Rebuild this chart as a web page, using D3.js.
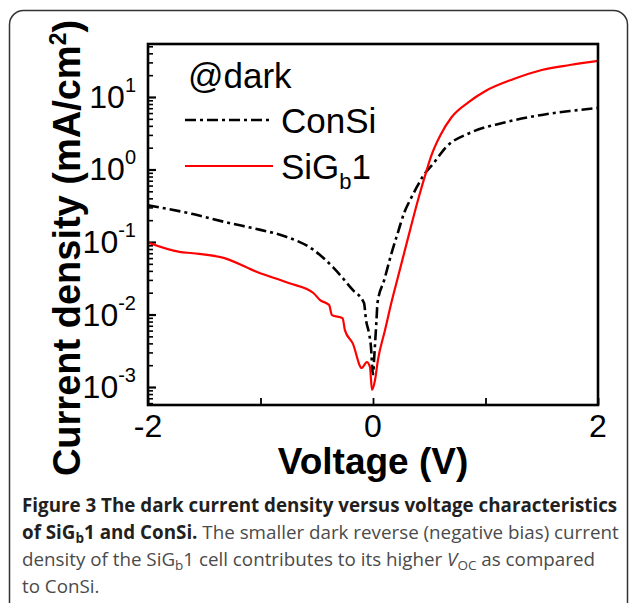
<!DOCTYPE html>
<html>
<head>
<meta charset="utf-8">
<script src="https://cdn.jsdelivr.net/npm/d3@7"></script>
<style>
  html, body { margin: 0; padding: 0; background: #fff; }
  svg { display: block; }
</style>
</head>
<body>
<div id="chart"></div>
<script>
// Dark J-V curves of ConSi and SiGb1 cells (log scale)

const voltageConSi = [-2, -1.6, -1.3, -1.0, -0.8, -0.53, -0.35, -0.18, -0.08, -0.062, -0.036, -0.018, -0.004,
  0.0, 0.013, 0.022, 0.031, 0.04, 0.1, 0.16, 0.22, 0.28, 0.33, 0.39, 0.44, 0.54, 0.65, 0.86, 1.15, 1.5, 1.75, 2.0];
const currentConSi = [0.32, 0.243, 0.186, 0.147, 0.122, 0.078, 0.044, 0.0218, 0.0144, 0.0084, 0.00556, 0.00356, 0.00162,
  0.0015, 0.00294, 0.0049, 0.0084, 0.0144, 0.03, 0.066, 0.133, 0.26, 0.38, 0.574, 0.79, 1.23, 2.04, 3.19, 4.38, 5.66, 6.4, 7.05];

const voltageSiGb1 = [-2, -1.72, -1.6, -1.32, -1.03, -0.75, -0.53, -0.47, -0.39, -0.365, -0.27, -0.25, -0.18, -0.1,
  -0.055, -0.027, -0.009, 0.018, 0.044, 0.107, 0.169, 0.222, 0.33, 0.4, 0.47, 0.52, 0.6, 0.7, 0.85, 1.0, 1.25, 1.5, 1.75, 2.0];
const currentSiGb1 = [0.098, 0.073, 0.07, 0.06, 0.0385, 0.0272, 0.0198, 0.0158, 0.0135, 0.0098, 0.0089, 0.0061, 0.004, 0.00183,
  0.00221, 0.00189, 0.00091, 0.00125, 0.00236, 0.0061, 0.0158, 0.0329, 0.147, 0.38, 0.9, 1.58, 3.0, 5.3, 8.5, 12.1, 17.7, 23.6, 27.6, 31.4];

const xDomain = [-2, 2];
const yDomain = [5.65e-4, 53.8];
const xTickValues = [-2, -1, 0, 1, 2];
const xTickLabels = [-2, 0, 2];
const yExponents = [1, 0, -1, -2, -3];

const W = 629, H = 603;
const plot = { left: 148, right: 598, top: 44, bottom: 405 };
const axisFont = "'Liberation Sans', Arial, sans-serif";
const capFont = "'Open Sans', 'Noto Sans', sans-serif";

const svg = d3.select("#chart").append("svg")
  .attr("width", W)
  .attr("height", H);

// outer rounded frame
svg.append("rect")
  .attr("x", 9.5).attr("y", 10.5)
  .attr("width", 618).attr("height", 640)
  .attr("rx", 14)
  .attr("fill", "none")
  .attr("stroke", "#333")
  .attr("stroke-width", 1.5);

const x = d3.scaleLinear().domain(xDomain).range([plot.left, plot.right]);
const y = d3.scaleLog().domain(yDomain).range([plot.bottom, plot.top]);

// y ticks (inward)
const majorY = yExponents.map(e => Math.pow(10, e));
const minorY = y.ticks().filter(v => !majorY.some(m => Math.abs(m - v) / m < 1e-6));

svg.append("g")
  .attr("transform", `translate(${plot.left},0)`)
  .call(d3.axisRight(y).tickValues(minorY).tickSize(5).tickFormat(""))
  .call(g => g.select(".domain").remove())
  .call(g => g.selectAll("line").attr("stroke", "#000").attr("stroke-width", 1.6));

svg.append("g")
  .attr("transform", `translate(${plot.left},0)`)
  .call(d3.axisRight(y).tickValues(majorY).tickSize(8).tickFormat(""))
  .call(g => g.select(".domain").remove())
  .call(g => g.selectAll("line").attr("stroke", "#000").attr("stroke-width", 2.2));

// x ticks (inward)
svg.append("g")
  .attr("transform", `translate(0,${plot.bottom})`)
  .call(d3.axisTop(x).tickValues(xTickValues).tickSize(7).tickFormat(""))
  .call(g => g.select(".domain").remove())
  .call(g => g.selectAll("line").attr("stroke", "#000").attr("stroke-width", 1.8));

// curves
svg.append("clipPath").attr("id", "plot-clip")
  .append("rect")
  .attr("x", plot.left).attr("y", plot.top)
  .attr("width", plot.right - plot.left).attr("height", plot.bottom - plot.top);

const line = d3.line()
  .x(d => x(d[0]))
  .y(d => y(d[1]))
  .curve(d3.curveMonotoneX);

const conSi = voltageConSi.map((v, i) => [v, currentConSi[i]]);
const siGb1 = voltageSiGb1.map((v, i) => [v, currentSiGb1[i]]);

svg.append("path")
  .datum(conSi)
  .attr("clip-path", "url(#plot-clip)")
  .attr("d", line)
  .attr("fill", "none")
  .attr("stroke", "#000")
  .attr("stroke-width", 2.6)
  .attr("stroke-dasharray", "11,4,3,4");

svg.append("path")
  .datum(siGb1)
  .attr("clip-path", "url(#plot-clip)")
  .attr("d", line)
  .attr("fill", "none")
  .attr("stroke", "#ff0000")
  .attr("stroke-width", 2.2)
  .attr("stroke-linejoin", "round");

// plot frame
svg.append("rect")
  .attr("x", plot.left).attr("y", plot.top)
  .attr("width", plot.right - plot.left).attr("height", plot.bottom - plot.top)
  .attr("fill", "none")
  .attr("stroke", "#000")
  .attr("stroke-width", 2.6);

// y tick labels 10^n
const yLab = svg.selectAll(".ylab")
  .data(yExponents)
  .join("text")
  .attr("class", "ylab")
  .attr("x", 136)
  .attr("y", e => y(Math.pow(10, e)) + 11)
  .attr("text-anchor", "end")
  .style("font-family", axisFont)
  .style("font-size", "32px")
  .attr("fill", "#000");
yLab.append("tspan").text("10");
yLab.append("tspan")
  .attr("dy", -16)
  .style("font-size", "20px")
  .text(e => e);

// x tick labels
svg.selectAll(".xlab")
  .data(xTickLabels)
  .join("text")
  .attr("class", "xlab")
  .attr("x", d => x(d))
  .attr("y", 437)
  .attr("text-anchor", "middle")
  .style("font-family", axisFont)
  .style("font-size", "32px")
  .text(d => d);

// axis titles
svg.append("text")
  .attr("x", x(0))
  .attr("y", 474)
  .attr("text-anchor", "middle")
  .style("font-family", axisFont)
  .style("font-size", "37px")
  .style("font-weight", "bold")
  .text("Voltage (V)");

const yTitle = svg.append("text")
  .attr("transform", "translate(80,248) rotate(-90)")
  .attr("text-anchor", "middle")
  .style("font-family", axisFont)
  .style("font-size", "38px")
  .style("font-weight", "bold");
yTitle.append("tspan").text("Current density (mA/cm");
yTitle.append("tspan").attr("dy", -14).style("font-size", "23px").text("2");
yTitle.append("tspan").attr("dy", 14).text(")");

// legend
svg.append("text")
  .attr("x", 188).attr("y", 88)
  .style("font-family", axisFont)
  .style("font-size", "35px")
  .text("@dark");

svg.append("line")
  .attr("x1", 185).attr("x2", 273)
  .attr("y1", 120).attr("y2", 120)
  .attr("stroke", "#000").attr("stroke-width", 2.6)
  .attr("stroke-dasharray", "11,4,3,4");
svg.append("text")
  .attr("x", 281).attr("y", 133)
  .style("font-family", axisFont)
  .style("font-size", "35px")
  .text("ConSi");

svg.append("line")
  .attr("x1", 185).attr("x2", 273)
  .attr("y1", 166).attr("y2", 166)
  .attr("stroke", "#ff0000").attr("stroke-width", 2.2);
const legSi = svg.append("text")
  .attr("x", 281).attr("y", 179)
  .style("font-family", axisFont)
  .style("font-size", "35px");
legSi.append("tspan").text("SiG");
legSi.append("tspan").attr("dy", 10).style("font-size", "22px").text("b");
legSi.append("tspan").attr("dy", -10).text("1");

// caption
const capLines = [
  [{ t: "Figure 3 The dark current density versus voltage characteristics", b: true }],
  [{ t: "of SiG", b: true }, { t: "b", b: true, sub: true }, { t: "1 and ConSi.", b: true },
   { t: " The smaller dark reverse (negative bias) current" }],
  [{ t: "density of the SiG" }, { t: "b", sub: true }, { t: "1 cell contributes to its higher " },
   { t: "V", i: true }, { t: "OC", i: false, sub: true }, { t: " as compared" }],
  [{ t: "to ConSi." }]
];
const capBase = [512, 539, 566, 593];
const capSize = 18.8;

capLines.forEach((runs, li) => {
  const t = svg.append("text")
    .attr("x", 22)
    .attr("y", capBase[li])
    .style("font-family", capFont)
    .style("font-size", capSize + "px");
  let shifted = false;
  runs.forEach(r => {
    const ts = t.append("tspan")
      .text(r.t)
      .attr("fill", r.b ? "#231f20" : "#4a4a4a")
      .style("font-weight", r.b ? "bold" : "normal")
      .style("font-style", r.i ? "italic" : "normal");
    if (r.sub && !shifted) { ts.attr("dy", 4).style("font-size", (capSize * 0.72) + "px"); shifted = true; }
    else if (r.sub) { ts.style("font-size", (capSize * 0.72) + "px"); }
    else if (shifted) { ts.attr("dy", -4); shifted = false; }
  });
});
</script>
</body>
</html>
